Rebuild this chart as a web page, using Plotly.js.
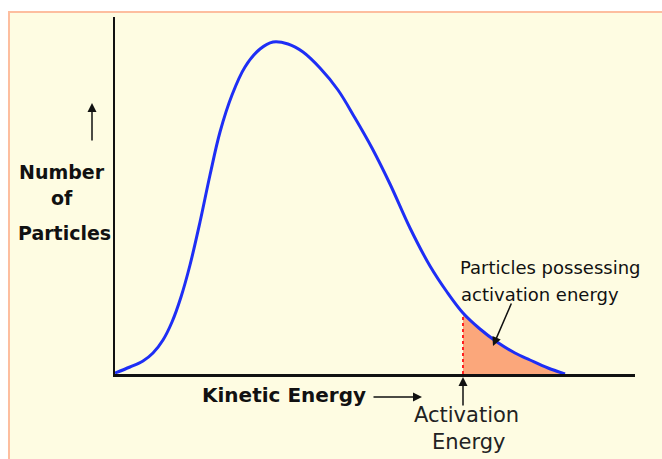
<!DOCTYPE html>
<html>
<head>
<meta charset="utf-8">
<script src="https://cdn.plot.ly/plotly-3.0.1.min.js"></script>
<style>html,body{margin:0;padding:0;background:#fff;}#chart{width:662px;height:459px;}</style>
</head>
<body>
<div id="chart"></div>
<script>
// Kinetic energy (arbitrary units) and number of particles
const energy    = [0, 15, 28, 38, 48, 57, 66, 75, 85, 95, 105, 117, 130, 145, 158, 173, 188, 205, 223, 240, 257, 275, 295, 315, 332, 348, 365, 382, 400, 415, 433, 450];
const particles = [1, 7, 13, 21, 34, 52, 77, 109, 152, 199, 242, 279, 307, 325, 332, 330, 322, 306, 284, 256, 226, 190, 146, 108, 82, 61, 45, 32, 21, 14, 6, 0];
const activationEnergy = 348;
const yLabelLines = ["Number", "of", "Particles"];
const xLabel = "Kinetic Energy";
const eaLabelLines = ["Activation", "Energy"];
const areaLabelLines = ["Particles possessing", "activation energy"];

const tailX = [], tailY = [];
energy.forEach((e, i) => { if (e >= activationEnergy) { tailX.push(e); tailY.push(particles[i]); } });
const eaY = particles[energy.indexOf(activationEnergy)];

const font = "DejaVu Sans, Verdana, sans-serif";
const traces = [
  {x: tailX, y: tailY, type: 'scatter', mode: 'lines', line: {width: 0, shape: 'spline'},
   fill: 'tozeroy', fillcolor: '#FBA77B', hoverinfo: 'skip', showlegend: false},
  {x: [activationEnergy, activationEnergy], y: [0, eaY], type: 'scatter', mode: 'lines',
   line: {color: '#FF2020', width: 2, dash: 'dot'}, showlegend: false},
  {x: energy, y: particles, type: 'scatter', mode: 'lines',
   line: {color: '#1E2EF5', width: 3, shape: 'spline', smoothing: 1}, showlegend: false}
];

const W = 520, H = 357, L = 115, B = 374;
const px = v => (v - L) / W;
const py = v => (B - v) / H;

const ann = [];
const yLabelPos = [[62, 172], [62, 198], [64, 233]];
yLabelLines.forEach((t, i) => ann.push({xref: 'paper', yref: 'paper', x: px(yLabelPos[i][0]), y: py(yLabelPos[i][1]),
  text: '<b>' + t + '</b>', showarrow: false, xanchor: 'center', yanchor: 'middle', font: {family: font, size: 19, color: '#111'}}));
ann.push({xref: 'paper', yref: 'paper', x: px(92), y: py(103), ax: 0, ay: 39, text: '', showarrow: true,
  arrowhead: 2, arrowsize: 1.2, arrowwidth: 1.5, arrowcolor: '#111'});
ann.push({xref: 'paper', yref: 'paper', x: px(284), y: py(395), text: '<b>' + xLabel + '</b>', showarrow: false,
  xanchor: 'center', yanchor: 'middle', font: {family: font, size: 20, color: '#111'}});
ann.push({xref: 'paper', yref: 'paper', x: px(422), y: py(397), ax: -50, ay: 0, text: '', showarrow: true,
  arrowhead: 2, arrowsize: 1.2, arrowwidth: 1.5, arrowcolor: '#111'});
const eaPos = [[466, 415], [469, 442]];
eaLabelLines.forEach((t, i) => ann.push({xref: 'paper', yref: 'paper', x: px(eaPos[i][0]), y: py(eaPos[i][1]),
  text: t, showarrow: false, xanchor: 'center', yanchor: 'middle', font: {family: font, size: 21, color: '#222'}}));
ann.push({xref: 'x', yref: 'paper', x: activationEnergy, y: py(377), ax: 0, ay: 30, text: '', showarrow: true,
  arrowhead: 2, arrowsize: 1.2, arrowwidth: 1.5, arrowcolor: '#111'});
const areaPos = [[458, 267], [459, 294]];
areaLabelLines.forEach((t, i) => ann.push({xref: 'paper', yref: 'paper', x: px(areaPos[i][0]), y: py(areaPos[i][1]),
  text: t, showarrow: false, xanchor: 'left', yanchor: 'middle', font: {family: font, size: 18, color: '#111'}}));
ann.push({xref: 'x', yref: 'y', x: 378, y: 28, ax: 19, ay: -44, text: '', showarrow: true,
  arrowhead: 2, arrowsize: 1.2, arrowwidth: 1.5, arrowcolor: '#111'});

const layout = {
  width: 662, height: 459,
  margin: {l: L, r: 662 - L - W, t: B - H, b: 459 - B, pad: 0},
  paper_bgcolor: '#ffffff', plot_bgcolor: 'rgba(0,0,0,0)',
  showlegend: false,
  xaxis: {range: [0, W], showgrid: false, zeroline: false, showticklabels: false, ticks: '',
          showline: true, linecolor: '#111', linewidth: 2.5, fixedrange: true},
  yaxis: {range: [0, H], showgrid: false, zeroline: false, showticklabels: false, ticks: '',
          showline: true, linecolor: '#111', linewidth: 2.5, fixedrange: true},
  shapes: [{type: 'rect', xref: 'paper', yref: 'paper', x0: px(9), x1: px(670), y0: py(470), y1: py(12),
            fillcolor: '#FEFCE2', line: {color: '#FDBE9F', width: 2}, layer: 'below'}],
  annotations: ann
};
Plotly.newPlot('chart', traces, layout, {displayModeBar: false, staticPlot: true});
</script>
</body>
</html>
